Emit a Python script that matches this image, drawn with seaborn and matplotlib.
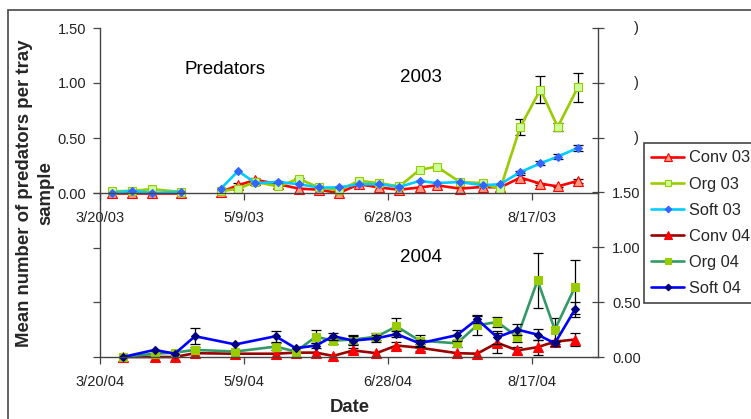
import matplotlib
matplotlib.use('Agg')
import matplotlib.pyplot as plt
import seaborn as sns
import pandas as pd
import numpy as np
from matplotlib.lines import Line2D
from matplotlib.patches import Rectangle

sns.set_theme(style='ticks')
plt.rcParams['font.family'] = ['Liberation Sans', 'DejaVu Sans']

# ---------------- data ----------------
dates_03 = ['2003-03-24', '2003-03-31', '2003-04-07', '2003-04-17',
            '2003-05-01', '2003-05-07', '2003-05-13', '2003-05-21', '2003-05-28',
            '2003-06-04', '2003-06-11', '2003-06-18', '2003-06-25', '2003-07-02',
            '2003-07-09', '2003-07-15', '2003-07-23', '2003-07-31', '2003-08-06',
            '2003-08-13', '2003-08-20', '2003-08-26', '2003-09-02']
seg_03 = [0, 0, 0, 0] + [1] * 19
conv_03 = [0.00, 0.00, 0.00, 0.00, 0.01, 0.07, 0.12, 0.08, 0.04, 0.03, 0.00, 0.08,
           0.05, 0.03, 0.05, 0.07, 0.04, 0.055, 0.05, 0.14, 0.085, 0.06, 0.11]
org_03 = [0.015, 0.02, 0.035, 0.01, 0.015, 0.04, 0.10, 0.06, 0.13, 0.05, 0.025, 0.11,
          0.09, 0.06, 0.21, 0.24, 0.10, 0.09, 0.035, 0.60, 0.94, 0.60, 0.96]
soft_03 = [0.00, 0.02, 0.00, 0.01, 0.04, 0.20, 0.09, 0.10, 0.08, 0.05, 0.05, 0.08,
           0.08, 0.055, 0.11, 0.09, 0.10, 0.07, 0.08, 0.19, 0.27, 0.33, 0.41]
conv_03_err = [0, 0, 0, 0, 0, 0.02, 0.02, 0.02, 0, 0, 0, 0.01,
               0, 0, 0, 0, 0, 0, 0, 0.02, 0.01, 0.01, 0.02]
org_03_err = [0, 0, 0, 0, 0, 0, 0, 0, 0.01, 0, 0, 0,
              0, 0, 0, 0, 0, 0, 0, 0.075, 0.12, 0.04, 0.13]
soft_03_err = [0, 0, 0, 0, 0, 0, 0, 0.01, 0, 0, 0, 0,
               0, 0, 0, 0, 0, 0, 0, 0.01, 0.02, 0.02, 0.03]

dates_04 = ['2004-03-28', '2004-04-08', '2004-04-15', '2004-04-22', '2004-05-06',
            '2004-05-20', '2004-05-27', '2004-06-03', '2004-06-09', '2004-06-16',
            '2004-06-24', '2004-07-01', '2004-07-09', '2004-07-22', '2004-07-29',
            '2004-08-05', '2004-08-12', '2004-08-19', '2004-08-25', '2004-09-01']
conv_04 = [0.0, 0.0, 0.0, 0.035, 0.03, 0.03, 0.04, 0.04, 0.01, 0.06, 0.035, 0.105,
           0.085, 0.035, 0.03, 0.13, 0.06, 0.09, 0.14, 0.16]
org_04 = [0.0, 0.03, 0.04, 0.065, 0.05, 0.095, 0.05, 0.185, 0.15, 0.16, 0.185, 0.28,
          0.15, 0.125, 0.29, 0.32, 0.185, 0.70, 0.25, 0.64]
soft_04 = [0.0, 0.065, 0.03, 0.19, 0.115, 0.19, 0.08, 0.105, 0.19, 0.15, 0.17, 0.21,
           0.125, 0.20, 0.345, 0.18, 0.25, 0.205, 0.125, 0.435]
conv_04_err = [0, 0, 0, 0, 0, 0, 0, 0, 0, 0.02, 0, 0.03,
               0.03, 0, 0, 0.09, 0.03, 0.07, 0.02, 0.06]
org_04_err = [0, 0, 0, 0.03, 0, 0.03, 0, 0.06, 0.03, 0.04, 0.03, 0.08,
              0.05, 0.03, 0.09, 0.05, 0.05, 0.25, 0.11, 0.25]
soft_04_err = [0, 0, 0, 0.075, 0, 0.05, 0, 0.02, 0.03, 0.04, 0.03, 0.03,
               0.03, 0.05, 0.03, 0.06, 0.05, 0.05, 0.02, 0.07]

xtick_dates_03 = ['2003-03-20', '2003-05-09', '2003-06-28', '2003-08-17']
xtick_labels_03 = ['3/20/03', '5/9/03', '6/28/03', '8/17/03']
xtick_dates_04 = ['2004-03-20', '2004-05-09', '2004-06-28', '2004-08-17']
xtick_labels_04 = ['3/20/04', '5/9/04', '6/28/04', '8/17/04']
ytick_vals = [0.0, 0.5, 1.0, 1.5]
ytick_labels = ['0.00', '0.50', '1.00', '1.50']
right_tick_vals = [0.0, 0.5, 1.0, 1.5, 2.0, 2.5, 3.0]
right_tick_labels = ['0.00', '0.50', '1.00', '1.50', '', '', '']

# ---------------- styles ----------------
styles = {
    'Conv 03': dict(color='#FF0000', marker='^', ms=6.5, mfc='#FF9980', mec='#FF0000'),
    'Org 03': dict(color='#99CC00', marker='s', ms=5.5, mfc='#CCFF99', mec='#99CC00'),
    'Soft 03': dict(color='#00CCFF', marker='D', ms=4.2, mfc='#3366FF', mec='#3366FF'),
    'Conv 04': dict(color='#990000', marker='^', ms=6.5, mfc='#FF0000', mec='#FF0000'),
    'Org 04': dict(color='#339966', marker='s', ms=5.5, mfc='#99CC00', mec='#99CC00'),
    'Soft 04': dict(color='#0000FF', marker='D', ms=4.2, mfc='#000080', mec='#000080'),
}
LW = 1.9
TICKC = '#222222'
SPC = '#444444'

W_PX, H_PX = 751, 419
fig = plt.figure(figsize=(W_PX / 100, H_PX / 100), dpi=100)

def fy(p):
    return 1 - p / H_PX

L = 100 / W_PX
R = 598 / W_PX
ax3 = fig.add_axes([L, fy(357), R - L, fy(28) - fy(357)], facecolor='none')
ax1 = fig.add_axes([L, fy(193), R - L, fy(28) - fy(193)], facecolor='none')
ax2 = fig.add_axes([L, fy(357), R - L, fy(193) - fy(357)], facecolor='none')

df03 = pd.DataFrame({'date': pd.to_datetime(dates_03), 'seg': seg_03,
                     'Conv 03': conv_03, 'Org 03': org_03, 'Soft 03': soft_03})
df04 = pd.DataFrame({'date': pd.to_datetime(dates_04), 'seg': 0,
                     'Conv 04': conv_04, 'Org 04': org_04, 'Soft 04': soft_04})
err03 = {'Conv 03': conv_03_err, 'Org 03': org_03_err, 'Soft 03': soft_03_err}
err04 = {'Conv 04': conv_04_err, 'Org 04': org_04_err, 'Soft 04': soft_04_err}

def draw(ax, df, errs, names):
    for i, name in enumerate(names):
        e = np.array(errs[name], dtype=float)
        m = e > 0
        ax.errorbar(df['date'][m], np.array(df[name])[m], yerr=e[m], fmt='none',
                    ecolor='black', elinewidth=0.9, capsize=3.5, capthick=0.9,
                    zorder=2 + i * 0.1)
        st = styles[name]
        sns.lineplot(data=df, x='date', y=name, units='seg', estimator=None, ax=ax,
                     color=st['color'], lw=LW, marker=st['marker'], ms=st['ms'],
                     mfc=st['mfc'], mec=st['mec'], mew=0.8, legend=False,
                     zorder=2.05 + i * 0.1, clip_on=False)

draw(ax1, df03, err03, ['Conv 03', 'Org 03', 'Soft 03'])
draw(ax2, df04, err04, ['Conv 04', 'Org 04', 'Soft 04'])

for ax, tdates, tlabels, yr in [(ax1, xtick_dates_03, xtick_labels_03, 2003),
                                (ax2, xtick_dates_04, xtick_labels_04, 2004)]:
    start = pd.Timestamp(f'{yr}-03-20')
    ax.set_xlim(start, start + pd.Timedelta(days=173))
    ax.set_ylim(0, 1.5)
    ax.set_xticks(pd.to_datetime(tdates))
    ax.set_xticklabels(tlabels)
    ax.set_yticks(ytick_vals)
    ax.set_xlabel('')
    ax.set_ylabel('')
    for s in ['top', 'right']:
        ax.spines[s].set_visible(False)
    for s in ['left', 'bottom']:
        ax.spines[s].set_color(SPC)
        ax.spines[s].set_linewidth(1.0)
    ax.tick_params(axis='both', direction='out', length=5, width=0.9, color=SPC,
                   labelsize=10.5, labelcolor=TICKC)
    ax.tick_params(axis='x', pad=8)
    ax.tick_params(axis='y', pad=5)

ax1.set_yticklabels(ytick_labels)
ax2.set_yticklabels([''] * len(ytick_vals))

# right-hand axis spanning both panels
ax3.set_ylim(0, 3.0)
ax3.set_xticks([])
for s in ['top', 'left', 'bottom']:
    ax3.spines[s].set_visible(False)
ax3.spines['right'].set_color(SPC)
ax3.spines['right'].set_linewidth(1.0)
ax3.yaxis.tick_right()
ax3.set_yticks(right_tick_vals)
ax3.set_yticklabels(right_tick_labels)
ax3.tick_params(axis='y', direction='inout', length=9, width=0.9, color=SPC,
                labelsize=10.5, labelcolor=TICKC, pad=5.5)
for v in [2.0, 2.5, 3.0]:
    ax3.text(1.072, v / 3.0, ')', transform=ax3.transAxes, fontsize=10.5,
             color=TICKC, va='center', ha='left')

# texts
fig.text(184 / W_PX, fy(70), 'Predators', fontsize=13.5, ha='left', va='center', color='black')
fig.text(400 / W_PX, fy(78), '2003', fontsize=13.5, ha='left', va='center', color='black')
fig.text(400 / W_PX, fy(257), '2004', fontsize=13.5, ha='left', va='center', color='black')
fig.text(35 / W_PX, fy(193), 'Mean number of predators per tray\nsample', rotation=90,
         fontsize=13.4, fontweight='bold', ha='center', va='center', linespacing=1.3,
         multialignment='center')
fig.text(350 / W_PX, fy(407), 'Date', fontsize=13.3, fontweight='bold', ha='center', va='center')

# legend
handles = [Line2D([0], [0], color=styles[n]['color'], lw=LW, marker=styles[n]['marker'],
                  ms=styles[n]['ms'] * 0.8, mfc=styles[n]['mfc'], mec=styles[n]['mec'], mew=0.8)
           for n in styles]
leg = fig.legend(handles, list(styles.keys()), loc='upper left',
                 bbox_to_anchor=(644 / W_PX, fy(143)), bbox_transform=fig.transFigure,
                 frameon=True, fancybox=False, shadow=False, fontsize=11.8,
                 handlelength=2.0, handletextpad=0.28, borderpad=0.45,
                 labelspacing=0.68, borderaxespad=0, numpoints=1)
leg.get_frame().set_edgecolor('#444444')
leg.get_frame().set_linewidth(1.2)
leg.get_frame().set_alpha(1)

# outer chart frame
fig.patches.append(Rectangle((8 / W_PX, -0.2), 1.5, fy(10) + 0.2, transform=fig.transFigure,
                             fill=False, edgecolor='#555555', lw=1.3, zorder=-1))

fig.savefig('out.png', dpi=100)
